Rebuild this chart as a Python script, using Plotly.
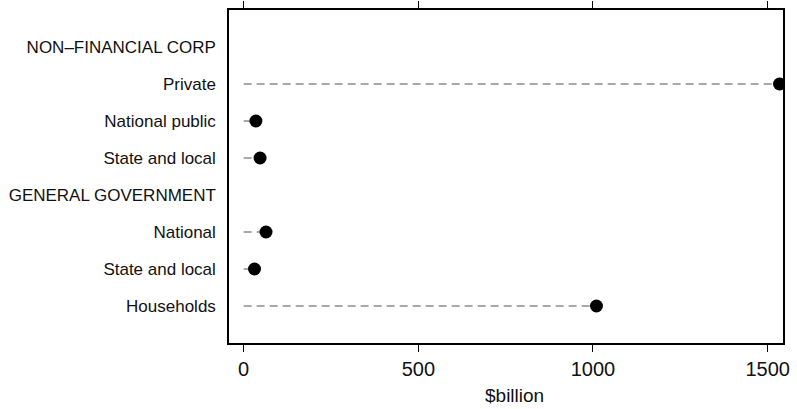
import plotly.graph_objects as go

categories = ["NON\u2013FINANCIAL CORP", "Private", "National public", "State and local",
              "GENERAL GOVERNMENT", "National", "State and local", "Households"]
values = [None, 1534, 35, 47, None, 64, 31, 1010]
x_ticks = [0, 500, 1000, 1500]
x_title = "$billion"

ypos = list(range(len(categories)))

fig = go.Figure()
lx, ly = [], []
for y, v in zip(ypos, values):
    if v is None:
        continue
    lx += [0, v, None]
    ly += [y, y, None]
fig.add_trace(go.Scatter(x=lx, y=ly, mode="lines",
                         line=dict(color="#8c8c8c", width=1.5, dash="8px,5px"),
                         hoverinfo="skip", showlegend=False))
fig.add_trace(go.Scatter(x=[v for v in values if v is not None],
                         y=[y for y, v in zip(ypos, values) if v is not None],
                         mode="markers", marker=dict(color="black", size=13),
                         showlegend=False))

font = "Liberation Sans, Arial, sans-serif"
fig.update_layout(
    width=797, height=409,
    margin=dict(l=229, r=14, t=10, b=66, autoexpand=False),
    plot_bgcolor="white", paper_bgcolor="white",
    font=dict(family=font, size=17, color="#111111"),
    xaxis=dict(range=[-42, 1544], tickvals=x_ticks, ticks="outside", ticklen=7,
               tickcolor="black", tickwidth=1.3, showline=True, linecolor="black", linewidth=1.5,
               mirror="ticks", showgrid=False, zeroline=False, automargin=False,
               tickfont=dict(size=20)),
    yaxis=dict(range=[8, -1], tickvals=ypos, ticktext=categories, ticks="",
               showline=True, linecolor="black", linewidth=1.5, mirror=True,
               showgrid=False, zeroline=False, automargin=False, ticklabelstandoff=8,
               tickfont=dict(size=17)),
    annotations=[dict(text=x_title, xref="paper", yref="paper", x=0.515, y=0,
                      yshift=-52, xanchor="center", yanchor="middle",
                      showarrow=False, font=dict(size=19))],
)
fig.write_html("out.html", config={"displayModeBar": False},
               post_script="document.body.style.margin='0';document.body.style.overflow='hidden';")
